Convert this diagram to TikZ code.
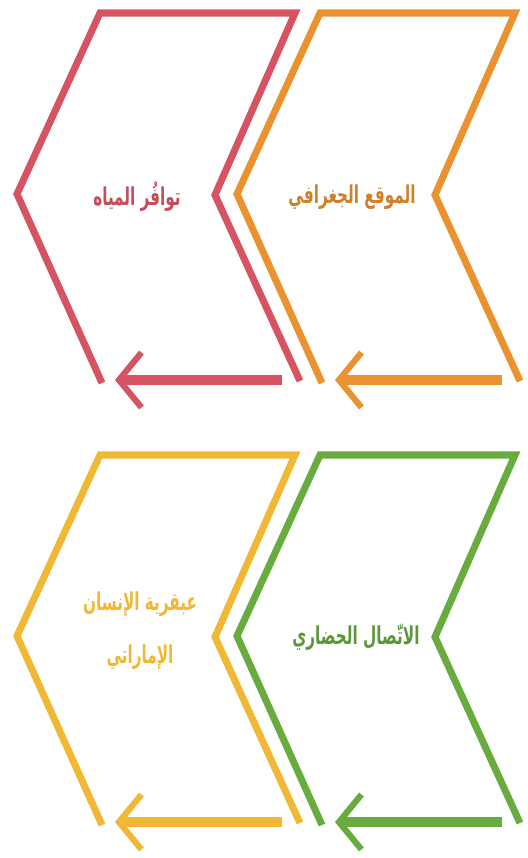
\documentclass[tikz,border=0pt]{standalone}
\usepackage{fontspec}
\newfontfamily\arabicfont[Script=Arabic,FakeStretch=0.62]{DejaVu Sans}
\TeXXeTstate=1
\usetikzlibrary{arrows.meta}
\definecolor{rougeMB}{RGB}{214,84,98}
\definecolor{orangeMB}{RGB}{234,146,48}
\definecolor{jauneMB}{RGB}{240,184,52}
\definecolor{vertMB}{RGB}{104,172,64}

\begin{document}
\begin{tikzpicture}[
      x=0.02cm,y=-0.02cm,
      chevron/.style={line width=4pt,line join=miter},
      fleche/.style={line width=5.5pt,-{Straight Barb[length=0.45cm,width=1.1cm,line width=3.5pt]}},
      titre/.style={font=\arabicfont\bfseries\fontsize{14}{30}\selectfont,align=center}
    ]
    \useasboundingbox (0,0) rectangle (527,858);
    \foreach \nom/\x/\y/\c in {eau/100/13/rougeMB,geo/320/13/orangeMB,gen/100/455/jauneMB,com/320/455/vertMB}{
      \draw[chevron,\c] (\x+2,\y+370) -- (\x-83,\y+181) -- (\x,\y) -- (\x+195,\y) -- (\x+115,\y+182) -- (\x+200,\y+368);
      \coordinate (\nom-a) at (\x+182,\y+367);
      \coordinate (\nom-b) at (\x+15,\y+367);
      \draw[fleche,\c] (\nom-a) -- (\nom-b);
    }
    \node[titre,text=rougeMB!92!black] (t-eau) at (137,197) {\beginR توافُر المياه\endR};
    \node[titre,text=orangeMB!88!black] (t-geo) at (352,197) {\beginR الموقع الجغرافي\endR};
    \node[titre,text=jauneMB] (t-gen) at (140,631) {\beginR عبقرية الإنسان\endR\\\beginR الإماراتي\endR};
    \node[titre,text=vertMB!88!black] (t-com) at (356,637) {\beginR الاتّصال الحضاري\endR};
  \end{tikzpicture}
\end{document}
